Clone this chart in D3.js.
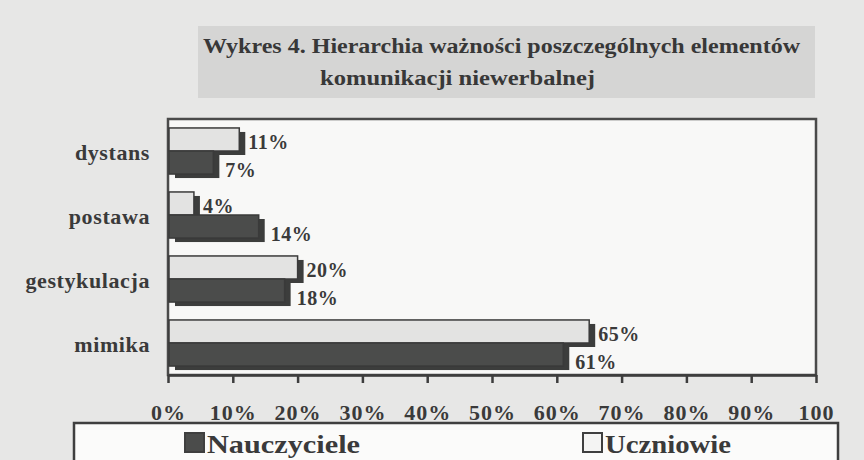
<!DOCTYPE html>
<html lang="pl">
  <head>
    <meta charset="utf-8" />
    <title>Wykres 4. Hierarchia ważności poszczególnych elementów komunikacji niewerbalnej</title>
    <script src="https://d3js.org/d3.v7.min.js"></script>
    <style>
      body {
        margin: 0;
        background: #e7e7e6;
      }

      svg {
        display: block;
        font-family: "Liberation Serif", "Times New Roman", serif;
        font-weight: bold;
      }

      .axis path,
      .axis line {
        stroke: #3d3d3d;
        stroke-width: 2.5;
      }

      .axis text {
        fill: #3a3a3a;
        font-family: "Liberation Serif", "Times New Roman", serif;
        font-weight: bold;
        font-size: 22px;
        letter-spacing: 1px;
      }
    </style>
  </head>

  <body>
    <svg id="chart"></svg>

    <script>
      // values
      const categories = ["dystans", "postawa", "gestykulacja", "mimika"];
      const uczniowie = [11, 4, 20, 65];
      const nauczyciele = [7, 14, 18, 61];
      const seriesNames = ["Uczniowie", "Nauczyciele"];
      const legendOrder = ["Nauczyciele", "Uczniowie"];
      const tickValues = [0, 10, 20, 30, 40, 50, 60, 70, 80, 90, 100];
      const tickLabels = ["0%", "10%", "20%", "30%", "40%", "50%", "60%", "70%", "80%", "90%", "100"];
      const titleLines = ["Wykres 4. Hierarchia ważności poszczególnych elementów", "komunikacji niewerbalnej"];

      const width = 864;
      const height = 460;
      const plot = { left: 168, right: 816, top: 119, bottom: 375 };
      const shadow = { dx: 6, dy: 4 };

      const colors = {
        Uczniowie: "#e3e3e2",
        Nauczyciele: "#4b4c4b",
      };

      const svg = d3.select("#chart").attr("width", width).attr("height", height);

      // title panel
      svg.append("rect").attr("x", 198).attr("y", 26).attr("width", 617).attr("height", 72).attr("fill", "#d5d5d4");

      const titleG = svg.append("g").attr("fill", "#383838").style("font-size", "20px");
      titleG
        .append("text")
        .attr("x", 203)
        .attr("y", 53)
        .attr("textLength", 597)
        .attr("lengthAdjust", "spacingAndGlyphs")
        .text(titleLines[0]);
      titleG
        .append("text")
        .attr("x", 320)
        .attr("y", 85)
        .attr("textLength", 275)
        .attr("lengthAdjust", "spacingAndGlyphs")
        .text(titleLines[1]);

      // scales
      const x = d3.scaleLinear().domain([0, 100]).range([plot.left, plot.right]);
      const y = d3.scaleBand().domain(categories).range([plot.top, plot.bottom]).paddingInner(0.28).paddingOuter(0.14);
      const ySub = d3.scaleBand().domain(seriesNames).range([0, y.bandwidth()]);

      // plot area
      svg
        .append("rect")
        .attr("x", plot.left)
        .attr("y", plot.top)
        .attr("width", plot.right - plot.left)
        .attr("height", plot.bottom - plot.top)
        .attr("fill", "#f8f8f7")
        .attr("stroke", "#4a4a4a")
        .attr("stroke-width", 2.5);

      const rows = categories.map((c, i) => ({
        category: c,
        values: [
          { key: "Uczniowie", value: uczniowie[i] },
          { key: "Nauczyciele", value: nauczyciele[i] },
        ],
      }));

      const groups = svg
        .append("g")
        .selectAll("g")
        .data(rows)
        .join("g")
        .attr("transform", (d) => `translate(0,${y(d.category)})`);

      const bars = groups
        .selectAll("g.bar")
        .data((d) => d.values)
        .join("g")
        .attr("class", "bar");

      // drop shadow
      bars
        .append("rect")
        .attr("x", x(0) + 1 + shadow.dx)
        .attr("y", (d) => ySub(d.key) + shadow.dy)
        .attr("width", (d) => x(d.value) - x(0) - 1)
        .attr("height", ySub.bandwidth())
        .attr("fill", "#3c3d3c");

      bars
        .append("rect")
        .attr("x", x(0) + 1)
        .attr("y", (d) => ySub(d.key))
        .attr("width", (d) => x(d.value) - x(0) - 1)
        .attr("height", ySub.bandwidth())
        .attr("fill", (d) => colors[d.key])
        .attr("stroke", "#3a3a3a")
        .attr("stroke-width", 1.5);

      // value labels
      bars
        .append("text")
        .attr("x", (d) => x(d.value) + shadow.dx + (d.key === "Uczniowie" ? 3 : 6))
        .attr("y", (d) => ySub(d.key) + ySub.bandwidth() / 2 + (d.key === "Uczniowie" ? 3 : 7) + 7)
        .attr("fill", "#3a3a3a")
        .style("font-size", "20px")
        .style("letter-spacing", "0.5px")
        .text((d) => d.value + "%");

      // category labels
      svg
        .append("g")
        .selectAll("text")
        .data(categories)
        .join("text")
        .attr("x", 150)
        .attr("y", (d) => y(d) + y.bandwidth() / 2 + 9)
        .attr("text-anchor", "end")
        .attr("fill", "#3a3a3a")
        .style("font-size", "22px")
        .style("letter-spacing", "0.6px")
        .text((d) => d);

      // x axis
      const xaxis = d3
        .axisBottom(x)
        .tickValues(tickValues)
        .tickFormat((d, i) => tickLabels[i])
        .tickSize(8)
        .tickSizeOuter(0)
        .tickPadding(21);
      svg.append("g").attr("class", "axis").attr("transform", `translate(0,${plot.bottom})`).call(xaxis);

      // legend
      const legend = svg.append("g");
      legend
        .append("rect")
        .attr("x", 74)
        .attr("y", 423)
        .attr("width", 764)
        .attr("height", 60)
        .attr("fill", "#fbfbfa")
        .attr("stroke", "#3f3f3f")
        .attr("stroke-width", 2.5);

      const legendX = d3.scaleOrdinal().domain(legendOrder).range([184, 582]);
      const legendW = { Nauczyciele: 153, Uczniowie: 126 };

      const items = legend
        .selectAll("g")
        .data(legendOrder)
        .join("g")
        .attr("transform", (d) => `translate(${legendX(d)},432)`);

      items
        .append("rect")
        .attr("x", 1)
        .attr("y", 1)
        .attr("width", 19)
        .attr("height", 19)
        .attr("fill", (d) => (d === "Nauczyciele" ? colors[d] : "#f4f4f3"))
        .attr("stroke", "#3f3f3f")
        .attr("stroke-width", 2);

      items
        .append("text")
        .attr("x", 23)
        .attr("y", 21)
        .attr("fill", "#3a3a3a")
        .style("font-size", "25px")
        .attr("textLength", (d) => legendW[d])
        .attr("lengthAdjust", "spacingAndGlyphs")
        .text((d) => d);
    </script>
  </body>
</html>
